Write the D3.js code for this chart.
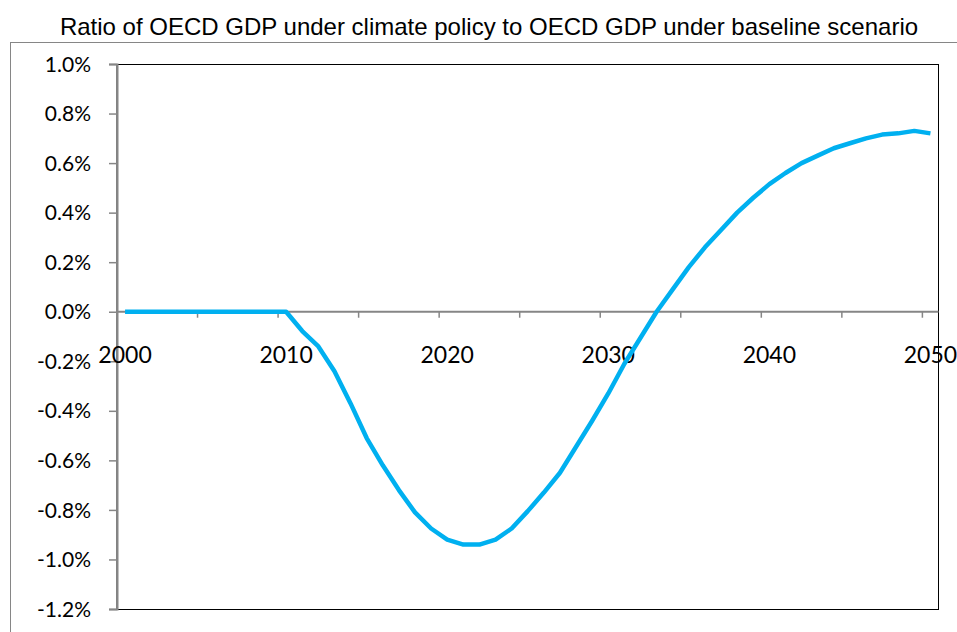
<!DOCTYPE html>
<html>
<head>
<meta charset="utf-8">
<script src="https://cdn.jsdelivr.net/npm/d3@7"></script>
<style>
  html, body { margin: 0; padding: 0; background: #fff; }
  svg { display: block; }
</style>
</head>
<body>
<svg id="chart" width="957" height="632"></svg>
<script>
const title = "Ratio of OECD GDP under climate policy to OECD GDP under baseline scenario";
const years = d3.range(2000, 2051);
const ratio = [
  0, 0, 0, 0, 0, 0, 0, 0, 0, 0, 0,
  -0.00078, -0.0014, -0.0024, -0.0037, -0.0051, -0.0062, -0.0072, -0.0081, -0.00875, -0.0092,
  -0.0094, -0.0094, -0.0092, -0.00875, -0.00805, -0.0073, -0.0065, -0.00545, -0.0044, -0.0033,
  -0.0021, -0.00105, 0.0000, 0.0009, 0.0018, 0.0026, 0.0033, 0.0040, 0.0046, 0.00515,
  0.0056, 0.0060, 0.0063, 0.0066, 0.0068, 0.0070, 0.00715, 0.0072, 0.0073, 0.0072
];
const yTicks = [-0.012, -0.010, -0.008, -0.006, -0.004, -0.002, 0, 0.002, 0.004, 0.006, 0.008, 0.010];
const xLabelYears = [2000, 2010, 2020, 2030, 2040, 2050];

const svg = d3.select("#chart");
const L = 117, R = 938.5, T = 64, B = 609;
const locale = d3.formatLocale({decimal: ".", thousands: ",", grouping: [3], currency: ["", ""], minus: "-", percent: "%"});

// outer frame
svg.append("rect").attr("x", 10.5).attr("y", 42.5).attr("width", 1000).attr("height", 700)
  .attr("fill", "none").attr("stroke", "#868686").attr("stroke-width", 1);

// title
svg.append("text").attr("x", 489).attr("y", 35).attr("text-anchor", "middle")
  .attr("font-family", "'Liberation Sans', Arial, sans-serif").attr("font-size", 24)
  .attr("fill", "#000").text(title);

const x = d3.scaleBand().domain(years).range([L, R]).paddingInner(0).paddingOuter(0);
const y = d3.scaleLinear().domain([-0.012, 0.010]).range([B, T]);
const cx = d => x(d) + x.bandwidth() / 2;

// plot area border
svg.append("rect").attr("x", L).attr("y", T + 0.5).attr("width", R - L).attr("height", B - T)
  .attr("fill", "none").attr("stroke", "#000").attr("stroke-width", 1);

// y axis
const yAxis = d3.axisLeft(y).tickValues(yTicks).tickFormat(locale.format(".1%")).tickSize(8).tickPadding(18);
const gy = svg.append("g").attr("transform", `translate(${L},0)`).call(yAxis);
gy.select(".domain").attr("stroke", "#868686").attr("stroke-width", 2);
gy.selectAll(".tick line").attr("stroke", "#868686").attr("stroke-width", 1.5);
gy.selectAll(".tick text").attr("font-family", "Lato, Carlito, Calibri, sans-serif")
  .attr("font-size", 21).attr("fill", "#000").attr("dy", "0.34em");

// x axis at zero
const y0 = y(0);
const boundaryTicks = years.filter(d => (d - 2000) % 5 === 0);
svg.append("line").attr("x1", L).attr("x2", R).attr("y1", y0).attr("y2", y0)
  .attr("stroke", "#868686").attr("stroke-width", 2);
svg.append("g").selectAll("line").data(boundaryTicks).join("line")
  .attr("x1", d => x(d)).attr("x2", d => x(d)).attr("y1", y0).attr("y2", y0 + 6)
  .attr("stroke", "#868686").attr("stroke-width", 1.5);
svg.append("g").selectAll("text").data(xLabelYears).join("text")
  .attr("x", d => cx(d)).attr("y", 363).attr("text-anchor", "middle")
  .attr("font-family", "Lato, Carlito, Calibri, sans-serif").attr("font-size", 23)
  .attr("fill", "#000").text(d => d);

// line
const line = d3.line().x((d, i) => cx(years[i])).y(d => y(d));
svg.append("path").datum(ratio).attr("d", line).attr("fill", "none")
  .attr("stroke", "#00B0F0").attr("stroke-width", 4.5).attr("stroke-linejoin", "round");
</script>
</body>
</html>
